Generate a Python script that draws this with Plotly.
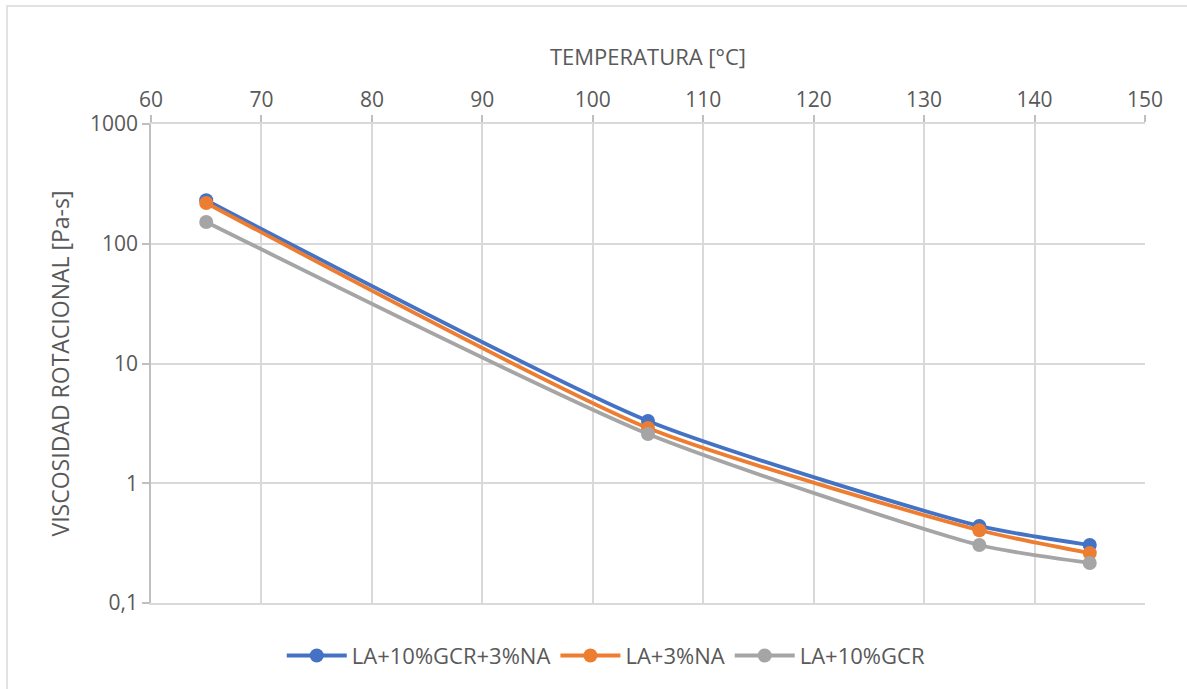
import plotly.graph_objects as go

temperatura = [65, 105, 135, 145]
serie_names = ["LA+10%GCR+3%NA", "LA+3%NA", "LA+10%GCR"]
visc_gcr_na = [231, 3.31, 0.44, 0.305]
visc_na = [219, 2.89, 0.405, 0.261]
visc_gcr = [152, 2.58, 0.305, 0.216]
colors = ["#4472C4", "#ED7D31", "#A5A5A5"]

y_tickvals = [0.1, 1, 10, 100, 1000]
y_ticktext = ["0,1", "1", "10", "100", "1000"]

font_family = "Open Sans, Liberation Sans, sans-serif"
txt = "#595959"

fig = go.Figure()
for name, vals, c in zip(serie_names, [visc_gcr_na, visc_na, visc_gcr], colors):
    fig.add_trace(go.Scatter(
        x=temperatura, y=vals, name=name, mode="lines+markers",
        line=dict(color=c, width=3.8, shape="spline", smoothing=0.6),
        marker=dict(color=c, size=14),
    ))

fig.update_layout(
    width=1187, height=689,
    margin=dict(l=151, r=42, t=124, b=86),
    paper_bgcolor="white", plot_bgcolor="white",
    font=dict(family=font_family, color=txt, size=21),
    showlegend=True,
    legend=dict(orientation="h", x=0.458, xanchor="center", y=-0.11, yanchor="middle",
                font=dict(size=22, color=txt), itemwidth=60, traceorder="normal"),
    xaxis=dict(
        side="top", range=[60, 150], dtick=10, tick0=60,
        title=dict(text="TEMPERATURA [°C]", font=dict(size=22, color=txt), standoff=13),
        showgrid=True, gridcolor="#d9d9d9", gridwidth=1.5,
        showline=True, linecolor="#d9d9d9", linewidth=1.5, mirror=True,
        ticks="outside", ticklen=7, tickcolor="#bfbfbf", tickwidth=1.5,
        tickfont=dict(size=21, color=txt), zeroline=False,
    ),
    yaxis=dict(
        type="log", range=[-1, 3], tickvals=y_tickvals, ticktext=y_ticktext,
        title=dict(text="VISCOSIDAD ROTACIONAL [Pa-s]", font=dict(size=23, color=txt), standoff=14),
        showgrid=True, gridcolor="#d9d9d9", gridwidth=1.5,
        showline=True, linecolor="#bfbfbf", linewidth=1.5,
        ticks="outside", ticklen=7, tickcolor="#bfbfbf", tickwidth=1.5,
        tickfont=dict(size=21, color=txt), zeroline=False,
    ),
    shapes=[
        dict(type="rect", xref="paper", yref="paper",
             x0=(7 - 151) / 994, x1=(1195 - 151) / 994,
             y0=(603 - 700) / 479, y1=(603 - 6) / 479,
             line=dict(color="#d9d9d9", width=1.5), fillcolor="rgba(0,0,0,0)", layer="below"),
    ],
)

fig.write_html("out.html")
